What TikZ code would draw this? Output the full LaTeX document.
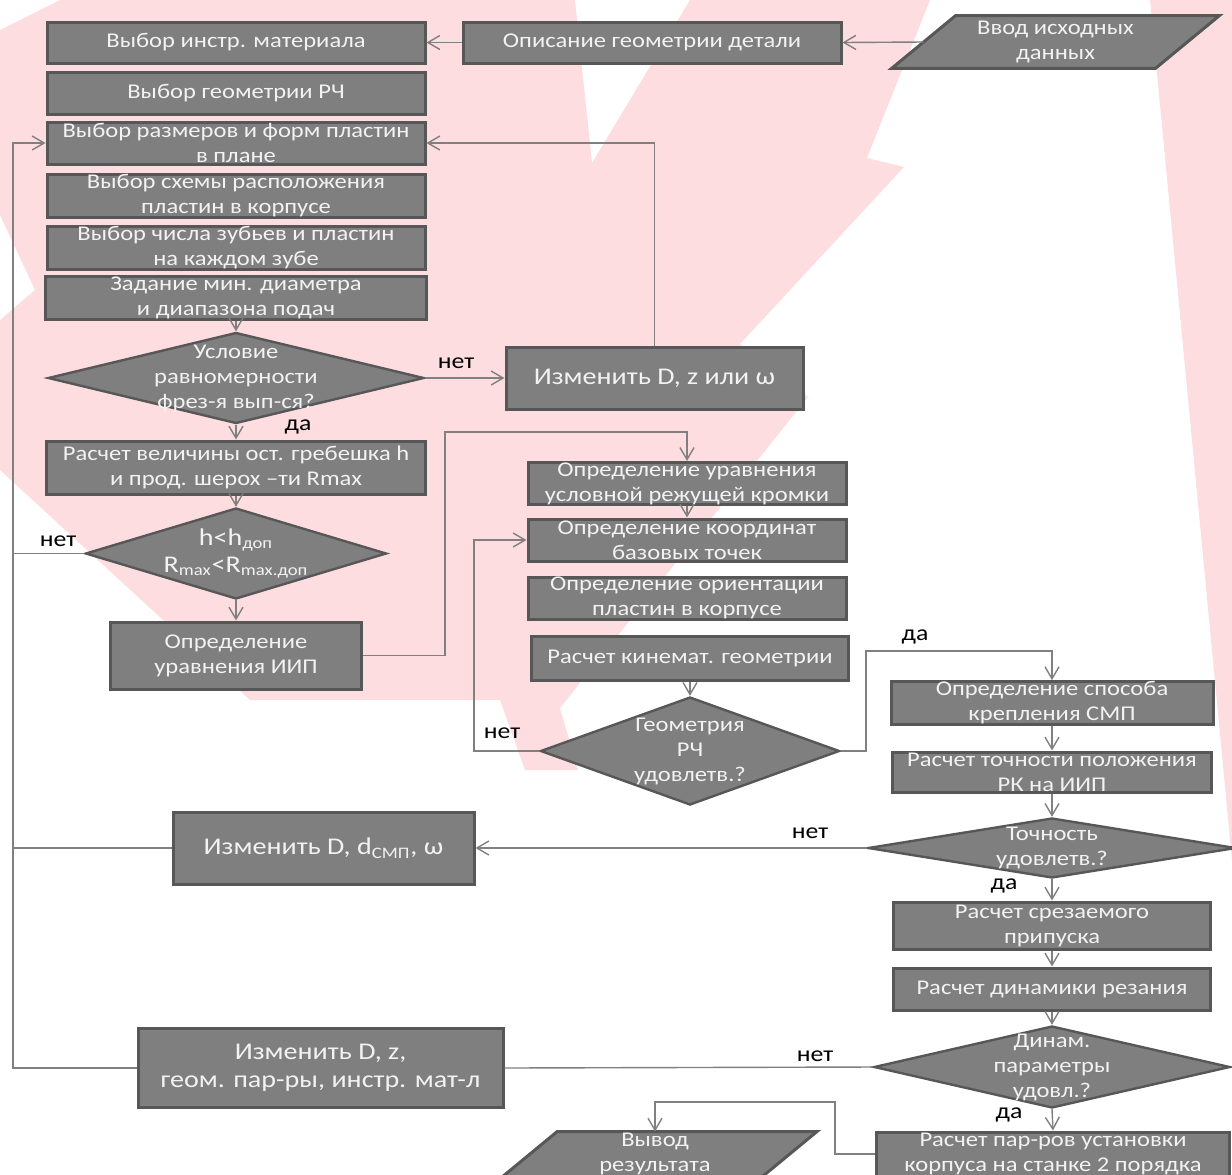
\documentclass[tikz,border=0pt]{standalone}
\usepackage{fontspec}
\setmainfont{Carlito}[FakeStretch=1.17]
\usetikzlibrary{
  shapes.geometric,
  positioning,
  calc,
  arrows.meta
}
\definecolor{boxfill}{HTML}{7F7F7F}
\definecolor{boxline}{HTML}{575757}
\definecolor{boxtext}{HTML}{F2F2F2}
\definecolor{wiregray}{HTML}{808080}
\definecolor{leafpink}{RGB}{253,221,224}

\begin{document}
\begin{tikzpicture}[x=0.5pt, y=-0.5pt,
    blk/.style={draw=boxline, line width=1.5pt, fill=boxfill, text=boxtext,
                align=center, inner sep=0pt,
                font=\fontsize{10.5}{12.5}\selectfont},
    bigblk/.style={blk, font=\fontsize{12}{14}\selectfont},
    dec/.style={diamond, draw=boxline, line width=1.2pt, fill=boxfill,
                inner sep=0pt},
    dtxt/.style={text=boxtext, align=center, inner sep=0pt,
                 font=\fontsize{10.5}{12.5}\selectfont},
    iobox/.style={minimum height=26pt, inner sep=0pt},
    iofill/.style={draw=boxline, line width=1.5pt, fill=boxfill},
    wire/.style={draw=wiregray, line width=0.7pt},
    arr/.style={wire, -{Straight Barb[length=6pt,width=7pt]}},
    lbl/.style={font=\fontsize{11}{13}\selectfont, text=black, inner sep=0pt},
  ]
  \useasboundingbox (0,0) rectangle (1232,1174);
  \clip (0,0) rectangle (1232,1174);

  % background leaf
  \fill[leafpink] (0,30) -- (60,0) -- (575,0) -- (592,163) -- (690,0)
    -- (930,0) -- (867,158) -- (904,167) -- (740,344) -- (808,397)
    -- (560,708) -- (578,770) -- (525,770) -- (500,700) -- (250,700)
    -- (0,470) -- (0,320) -- (35,290) -- (0,215) -- cycle;
  \fill[leafpink] (1150,0) -- (1232,0) -- (1232,860) -- cycle;

  % left column
  \node[blk, minimum width=189pt, minimum height=20.5pt] (mat) at (236,42.5)
    {Выбор инстр. материала};
  \node[blk, minimum width=189pt, minimum height=21pt] (geom) at (236,93)
    {Выбор геометрии РЧ};
  \node[blk, minimum width=189pt, minimum height=21pt] (size) at (236,143)
    {Выбор размеров и форм пластин\\в плане};
  \node[blk, minimum width=189pt, minimum height=21pt] (scheme) at (236,196)
    {Выбор схемы расположения\\пластин в корпусе};
  \node[blk, minimum width=189pt, minimum height=21pt] (teeth) at (236,248)
    {Выбор числа зубьев и пластин\\на каждом зубе};
  \node[blk, minimum width=190.5pt, minimum height=21pt] (feed) at (236,298)
    {Задание мин. диаметра\\и диапазона подач};
  \node[dec, minimum width=188pt, minimum height=45.5pt] (even) at (236,378) {};
  \node[dtxt] (even-t) at (even) {Условие\\равномерности\\фрез-я вып-ся?};
  \node[blk, minimum width=189.5pt, minimum height=26.5pt] (ridge) at (236,467.5)
    {Расчет величины ост. гребешка h\\и прод. шерох –ти Rmax};
  \node[dec, minimum width=150.5pt, minimum height=45.5pt] (rough) at (236,553.5) {};
  \node[dtxt, font=\fontsize{12}{13.5}\selectfont] (rough-t) at (rough)
    {h<h\textsubscript{доп}\\R\textsubscript{max}<R\textsubscript{max.доп}};
  \node[blk, minimum width=125.5pt, minimum height=33.5pt] (iip) at (236,655.5)
    {Определение\\уравнения ИИП};

  % top row
  \node[blk, minimum width=189pt, minimum height=20.5pt] (part) at (652,42.5)
    {Описание геометрии детали};
  \node[iobox, minimum width=131.5pt] (input) at (1055.5,42) {};
  \filldraw[iofill] ([xshift=16pt]input.north west) -- ([xshift=16pt]input.north east)
    -- ([xshift=-16pt]input.south east) -- ([xshift=-16pt]input.south west) -- cycle;
  \node[dtxt] (input-t) at (input) {Ввод исходных\\данных};
  \node[bigblk, minimum width=148.5pt, minimum height=31pt] (chg1) at (654.5,378)
    {Изменить D, z или ω};

  % middle column
  \node[blk, minimum width=159pt, minimum height=20.5pt] (edge) at (687,483.5)
    {Определение уравнения\\условной режущей кромки};
  \node[blk, minimum width=159pt, minimum height=21pt] (base) at (687,540)
    {Определение координат\\базовых точек};
  \node[blk, minimum width=159pt, minimum height=21pt] (orient) at (687,598)
    {Определение ориентации\\пластин в корпусе};
  \node[blk, minimum width=158.5pt, minimum height=22pt] (kin) at (690,658)
    {Расчет кинемат. геометрии};
  \node[dec, minimum width=149.5pt, minimum height=54pt] (geomok) at (690,751) {};
  \node[dtxt] (geomok-t) at (geomok) {Геометрия\\РЧ\\удовлетв.?};

  % right column
  \node[blk, minimum width=161pt, minimum height=20pt] (clamp) at (1052,703)
    {Определение способа\\крепления СМП};
  \node[blk, minimum width=159.5pt, minimum height=20pt] (acc) at (1052,772)
    {Расчет точности положения\\РК на ИИП};
  \node[dec, minimum width=184pt, minimum height=30pt] (accok) at (1052,848) {};
  \node[dtxt] (accok-t) at (accok) {Точность\\удовлетв.?};
  \node[blk, minimum width=158.5pt, minimum height=23.5pt] (stock) at (1052,925.5)
    {Расчет срезаемого\\припуска};
  \node[blk, minimum width=158.5pt, minimum height=21pt] (dyn) at (1052,989)
    {Расчет динамики резания};
  \node[dec, minimum width=178pt, minimum height=41pt] (dynok) at (1052,1067) {};
  \node[dtxt] (dynok-t) at (dynok) {Динам.\\параметры\\удовл.?};
  \node[blk, minimum width=176.5pt, minimum height=22pt] (setup) at (1053,1154)
    {Расчет пар-ров установки\\корпуса на станке 2 порядка};
  \node[iobox, minimum width=129.5pt] (out) at (655,1158) {};
  \filldraw[iofill] ([xshift=16pt]out.north west) -- ([xshift=16pt]out.north east)
    -- ([xshift=-16pt]out.south east) -- ([xshift=-16pt]out.south west) -- cycle;
  \node[dtxt] (out-t) at ([yshift=2pt]out) {Вывод\\результата};

  % change boxes at the bottom left
  \node[bigblk, minimum width=150.5pt, minimum height=36pt] (chg2) at (323.5,848)
    {Изменить D, d\textsubscript{СМП}, ω};
  \node[bigblk, minimum width=182.5pt, minimum height=39.5pt] (chg3) at (320.5,1068)
    {Изменить D, z,\\геом. пар-ры, инстр. мат-л};

  % bends
  \coordinate (back) at (13,143);
  \coordinate (k1) at (445,432);
  \coordinate (m1) at (474,540);
  \coordinate (p1) at (866,651);
  \coordinate (v1) at (835,1102);

  % connectors
  \draw[arr] (input.west) -- (part.east);
  \draw[arr] (part.west) -- (mat.east);
  \draw[arr] (feed.south) -- (even.north);
  \draw[arr] (even.east) -- (chg1.west);
  \draw[arr] (chg1.north) |- (size.east);
  \draw[arr] (even.south) -- (ridge.north);
  \draw[arr] (ridge.south) -- (rough.north);
  \draw[arr] (rough.south) -- (iip.north);
  \draw[wire] (rough.west) -- (rough.west -| back);
  \draw[wire] (chg2.west) -- (chg2.west -| back);
  \draw[arr] (chg3.west) -| (back) -- (size.west);
  \draw[arr] (iip.east) -| (k1) -| (edge.north);
  \draw[arr] (edge.south) -- (base.north);
  \draw[arr] (kin.south) -- (geomok.north);
  \draw[arr] (geomok.west) -| (m1) -- (base.west);
  \draw[arr] (geomok.east) -| (p1) -| (clamp.north);
  \draw[arr] (clamp.south) -- (acc.north);
  \draw[arr] (acc.south) -- (accok.north);
  \draw[arr] (accok.west) -- (chg2.east);
  \draw[arr] (accok.south) -- (stock.north);
  \draw[arr] (stock.south) -- (dyn.north);
  \draw[arr] (dyn.south) -- (dynok.north);
  \draw[wire] (dynok.west) -- (chg3.east);
  \draw[arr] (dynok.south) -- (setup.north);
  \draw[arr] (setup.west) -| (v1) -| (out.north);

  % yes / no
  \node[lbl] at (456,363) {нет};
  \node[lbl] at (298,427) {да};
  \node[lbl] at (58,541) {нет};
  \node[lbl] at (502,733) {нет};
  \node[lbl] at (915,637) {да};
  \node[lbl] at (810,833) {нет};
  \node[lbl] at (1004,886) {да};
  \node[lbl] at (815,1056) {нет};
  \node[lbl] at (1009,1115) {да};
\end{tikzpicture}
\end{document}
